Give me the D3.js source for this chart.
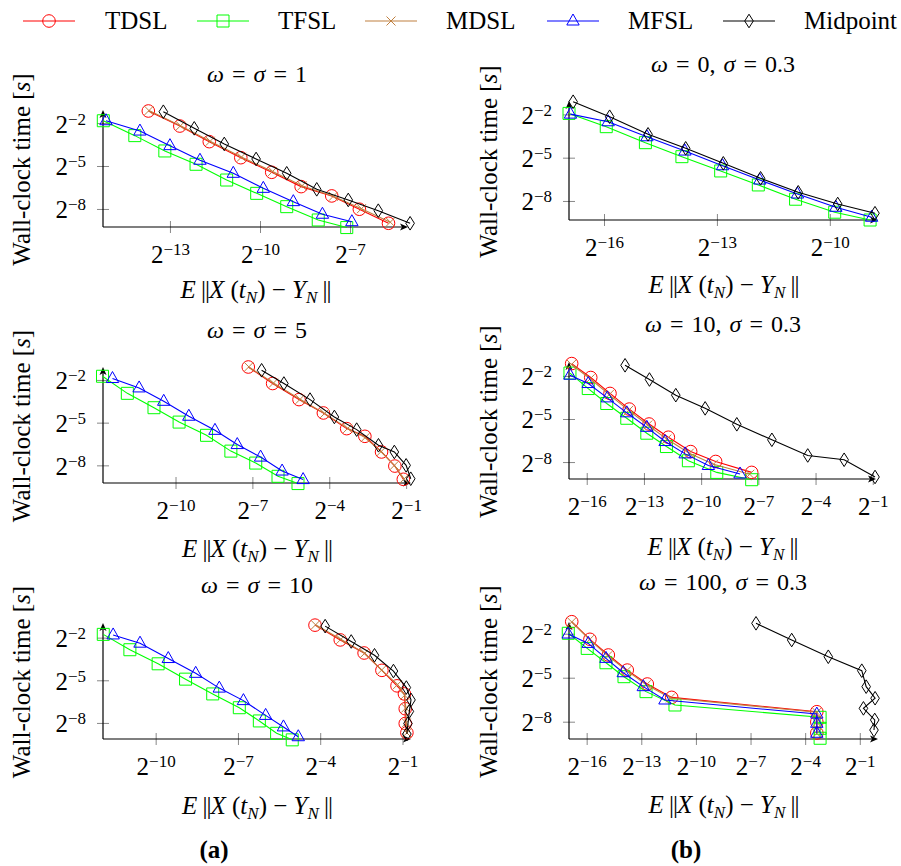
<!DOCTYPE html>
<html><head><meta charset="utf-8">
<script src="https://cdn.jsdelivr.net/npm/d3@7"></script>
<style>
body{margin:0;background:#fff}
svg{display:block}
</style>
</head><body><svg id="c" width="901" height="866" font-family="Liberation Serif, Times New Roman, Tinos, DejaVu Serif, serif"></svg>
<script>
// ---------- DATA (log2 of error / log2 of wall-clock time) ----------
const seriesNames = ["TDSL","TFSL","MDSL","MFSL","Midpoint"];

// panel (a) omega = sigma = 1
const p1Err = {
  TDSL:[-13.72,-12.67,-11.69,-10.64,-9.61,-8.63,-7.61,-6.69,-5.72],
  TFSL:[-15.22,-14.17,-13.17,-12.13,-11.11,-10.11,-9.11,-8.06,-7.11],
  MDSL:[-13.70,-12.65,-11.66,-10.62,-9.58,-8.60,-7.56,-6.62,-5.66],
  MFSL:[-15.13,-14.0,-13.0,-12.0,-10.89,-9.89,-8.89,-7.92,-6.94],
  Midpoint:[-13.22,-12.19,-11.19,-10.13,-9.11,-8.11,-7.06,-6.06,-5.0]
};
const p1Time = {
  TDSL:[-1.16,-2.21,-3.30,-4.42,-5.44,-6.44,-7.09,-8.02,-9.0],
  TFSL:[-1.84,-2.88,-3.95,-4.88,-5.98,-6.91,-7.84,-8.77,-9.30],
  MDSL:[-1.13,-2.19,-3.27,-4.38,-5.38,-6.38,-7.12,-7.98,-8.92],
  MFSL:[-1.84,-2.56,-3.58,-4.60,-5.51,-6.56,-7.49,-8.37,-8.89],
  Midpoint:[-1.21,-2.37,-3.46,-4.51,-5.51,-6.63,-7.37,-8.12,-9.0]
};
// panel (b) omega = 0, sigma = 0.3
const p2Err = {
  TFSL:[-16.93,-15.94,-14.90,-13.93,-12.90,-11.90,-10.91,-9.87,-8.93],
  MFSL:[-16.89,-15.89,-14.86,-13.85,-12.85,-11.86,-10.86,-9.84,-8.89],
  Midpoint:[-16.82,-15.85,-14.83,-13.83,-12.83,-11.84,-10.84,-9.79,-8.80]
};
const p2Time = {
  TFSL:[-1.93,-2.85,-3.96,-4.93,-5.92,-6.89,-7.88,-8.78,-9.32],
  MFSL:[-1.98,-2.51,-3.55,-4.54,-5.56,-6.55,-7.52,-8.44,-9.13],
  Midpoint:[-1.12,-2.16,-3.38,-4.35,-5.39,-6.43,-7.40,-8.21,-8.85]
};
// panel (a) omega = sigma = 5
const p3Err = {
  TDSL:[-7.16,-6.21,-5.18,-4.23,-3.32,-2.61,-1.96,-1.44,-1.11],
  TFSL:[-12.85,-11.88,-10.84,-9.86,-8.79,-7.84,-6.87,-6.0,-5.22],
  MDSL:[-7.14,-6.18,-5.14,-4.18,-3.28,-2.60,-1.98,-1.46,-1.08],
  MFSL:[-12.46,-11.42,-10.46,-9.48,-8.46,-7.59,-6.68,-5.84,-5.02],
  Midpoint:[-6.64,-5.77,-4.75,-3.80,-2.93,-2.08,-1.46,-1.0,-0.82]
};
const p3Time = {
  TDSL:[-1.09,-2.25,-3.38,-4.32,-5.42,-5.96,-7.06,-8.05,-8.98],
  TFSL:[-1.74,-2.94,-3.95,-4.96,-5.89,-7.0,-7.84,-8.77,-9.28],
  MDSL:[-1.08,-2.22,-3.36,-4.35,-5.40,-6.05,-7.04,-8.0,-8.95],
  MFSL:[-1.90,-2.56,-3.50,-4.55,-5.54,-6.54,-7.42,-8.40,-9.0],
  Midpoint:[-1.32,-2.25,-3.38,-4.60,-5.49,-6.59,-7.06,-8.0,-8.94]
};
// panel (b) omega = 10, sigma = 0.3
const p4Err = {
  TDSL:[-16.79,-15.79,-14.78,-13.77,-12.73,-11.72,-10.55,-9.24,-7.35],
  TFSL:[-16.88,-15.92,-14.95,-13.90,-12.85,-11.82,-10.67,-9.18,-7.35],
  MDSL:[-16.80,-15.82,-14.82,-13.80,-12.80,-11.80,-10.62,-9.35,-7.45],
  MFSL:[-16.88,-15.92,-14.92,-13.90,-12.85,-11.89,-10.84,-9.62,-7.96],
  Midpoint:[-13.99,-12.71,-11.33,-9.79,-8.13,-6.29,-4.41,-2.50,-0.88]
};
const p4Time = {
  TDSL:[-1.14,-2.11,-3.22,-4.31,-5.35,-6.27,-7.27,-7.96,-8.72],
  TFSL:[-1.80,-2.88,-3.92,-4.95,-5.99,-6.92,-7.91,-8.72,-9.23],
  MDSL:[-1.20,-2.20,-3.30,-4.40,-5.42,-6.40,-7.38,-8.15,-8.85],
  MFSL:[-1.95,-2.53,-3.53,-4.57,-5.58,-6.57,-7.43,-8.24,-8.83],
  Midpoint:[-1.26,-2.25,-3.34,-4.26,-5.37,-6.45,-7.54,-7.84,-9.04]
};
// panel (a) omega = sigma = 10
const p5Err = {
  TDSL:[-4.19,-3.27,-2.40,-1.75,-1.20,-0.93,-0.90,-0.90,-0.84],
  TFSL:[-11.91,-10.94,-9.91,-8.91,-7.92,-6.95,-6.22,-5.59,-5.02],
  MDSL:[-4.17,-3.25,-2.38,-1.76,-1.18,-0.92,-0.88,-0.86,-0.84],
  MFSL:[-11.55,-10.57,-9.54,-8.54,-7.68,-6.80,-5.99,-5.34,-4.80],
  Midpoint:[-3.82,-2.87,-2.02,-1.33,-0.86,-0.69,-0.75,-0.80,-0.84]
};
const p5Time = {
  TDSL:[-1.12,-2.16,-3.08,-4.30,-5.39,-5.96,-7.0,-8.04,-8.69],
  TFSL:[-1.77,-2.85,-3.84,-4.92,-5.96,-6.93,-7.86,-8.73,-9.19],
  MDSL:[-1.10,-2.12,-3.10,-4.28,-5.30,-6.05,-6.95,-8.00,-8.70],
  MFSL:[-1.81,-2.39,-3.47,-4.51,-5.55,-6.43,-7.47,-8.28,-8.97],
  Midpoint:[-1.19,-2.27,-3.24,-4.35,-5.51,-6.38,-7.19,-8.04,-8.78]
};
// panel (b) omega = 100, sigma = 0.3
const p6Err = {
  TDSL:[-16.82,-15.82,-14.81,-13.77,-12.67,-11.33,-3.36,-3.36,-3.36],
  TFSL:[-17.01,-15.97,-14.94,-13.95,-12.74,-11.15,-3.18,-3.18,-3.18],
  MDSL:[-16.82,-15.84,-14.84,-13.80,-12.72,-11.40,-3.36,-3.36,-3.36],
  MFSL:[-17.01,-15.91,-14.94,-13.99,-12.89,-11.70,-3.36,-3.36,-3.36],
  Midpoint:[-6.70,-4.74,-2.73,-0.89,-0.65,-0.16,-0.80,-0.18,-0.22]
};
const p6Time = {
  TDSL:[-1.18,-2.38,-3.45,-4.48,-5.43,-6.34,-7.32,-8.02,-8.77],
  TFSL:[-1.97,-3.0,-3.98,-4.93,-5.95,-6.86,-7.70,-8.45,-9.13],
  MDSL:[-1.20,-2.40,-3.50,-4.52,-5.48,-6.38,-7.36,-8.05,-8.80],
  MFSL:[-2.02,-2.66,-3.68,-4.66,-5.61,-6.52,-7.48,-8.11,-8.79],
  Midpoint:[-1.29,-2.43,-3.57,-4.52,-5.61,-6.40,-7.09,-7.88,-8.57]
};

const yTickExps = [-2,-5,-8];
const p1XTicks = [-13,-10,-7];
const p2XTicks = [-16,-13,-10];
const p3XTicks = [-10,-7,-4,-1];
const p4XTicks = [-16,-13,-10,-7,-4,-1];
const p5XTicks = [-10,-7,-4,-1];
const p6XTicks = [-16,-13,-10,-7,-4,-1];

const titles = ["ω = σ = 1","ω = 0, σ = 0.3","ω = σ = 5","ω = 10, σ = 0.3","ω = σ = 10","ω = 100, σ = 0.3"];
const subLabels = ["(a)","(b)"];

// ---------- STYLE / LAYOUT ----------
const styles = {
  TDSL:{color:"#ff0000",mark:"circle"},
  TFSL:{color:"#00ff00",mark:"square"},
  MDSL:{color:"#bf8040",mark:"cross"},
  MFSL:{color:"#0000ff",mark:"triangle"},
  Midpoint:{color:"#000000",mark:"diamond"}
};
const panels = [
  {err:p1Err,time:p1Time,xt:p1XTicks,title:titles[0],x0:103,x1:408,yb:227,yt:110,xd:[-15.23,-5.07],yd:[-9.26,-1.09],tx:257,ty:82,xly:298,yl:30},
  {err:p2Err,time:p2Time,xt:p2XTicks,title:titles[1],x0:569,x1:878,yb:220,yt:101,xd:[-16.93,-8.72],yd:[-9.32,-1.07],tx:723,ty:72,xly:293,yl:497},
  {err:p3Err,time:p3Time,xt:p3XTicks,title:titles[2],x0:103,x1:411,yb:483,yt:367,xd:[-12.83,-0.81],yd:[-9.24,-1.09],tx:257,ty:338,xly:557,yl:30},
  {err:p4Err,time:p4Time,xt:p4XTicks,title:titles[3],x0:569,x1:876,yb:479,yt:362,xd:[-16.93,-0.83],yd:[-9.18,-1.03],tx:723,ty:332,xly:555,yl:497},
  {err:p5Err,time:p5Time,xt:p5XTicks,title:titles[4],x0:103,x1:411,yb:739,yt:623,xd:[-11.92,-0.69],yd:[-9.13,-0.97],tx:257,ty:593,xly:814,yl:30},
  {err:p6Err,time:p6Time,xt:p6XTicks,title:titles[5],x0:569,x1:878,yb:739,yt:622,xd:[-16.97,0.0],yd:[-9.18,-1.20],tx:723,ty:590,xly:813,yl:497}
];

const svg = d3.select("#c");

function drawMarker(g, type, color){
  const s = g.append(type==="circle"?"circle":"path")
    .attr("fill","none").attr("stroke",color).attr("stroke-width",1);
  if(type==="circle") s.attr("r",6.3);
  else if(type==="square") s.attr("d","M-6,-6H6V6H-6Z");
  else if(type==="triangle") s.attr("d","M0,-7L6.2,4L-6.2,4Z");
  else if(type==="diamond") s.attr("d","M0,-6.8L4.3,0L0,6.8L-4.3,0Z");
  else if(type==="cross") s.attr("d","M-4.5,-4.5L4.5,4.5M-4.5,4.5L4.5,-4.5");
}

function supLabel(sel, exp, size){
  sel.append("tspan").attr("font-size",size).text("2");
  sel.append("tspan").attr("font-size",17).attr("dy",-8).text("\u2212"+Math.abs(exp));
}

// ---------- LEGEND ----------
const legendItems = [
  {name:"TDSL",lx:23,tx:105},{name:"TFSL",lx:197,tx:278},{name:"MDSL",lx:365,tx:446},
  {name:"MFSL",lx:547,tx:628},{name:"Midpoint",lx:723,tx:804}
];
legendItems.forEach(it=>{
  const st = styles[it.name];
  const g = svg.append("g");
  g.append("line").attr("x1",it.lx).attr("x2",it.lx+52).attr("y1",21).attr("y2",21)
    .attr("stroke",st.color).attr("stroke-width",1.1);
  drawMarker(g.append("g").attr("transform",`translate(${it.lx+26},21)`), st.mark, st.color);
  g.append("text").attr("x",it.tx).attr("y",29).attr("font-size",25).text(it.name);
});

// ---------- PANELS ----------
panels.forEach(p=>{
  const x = d3.scaleLog().base(2).domain([2**p.xd[0],2**p.xd[1]]).range([p.x0,p.x1]);
  const y = d3.scaleLog().base(2).domain([2**p.yd[0],2**p.yd[1]]).range([p.yb,p.yt]);
  const g = svg.append("g");

  const gx = g.append("g").attr("transform",`translate(0,${p.yb})`)
    .call(d3.axisBottom(x).tickValues(p.xt.map(e=>2**e)).tickSizeInner(6).tickSizeOuter(0).tickFormat(()=>""));
  gx.attr("font-family",null).attr("font-size",null);
  gx.select(".domain").remove();
  gx.selectAll(".tick line").attr("y1",-6).attr("stroke","#888").attr("stroke-width",1);
  gx.selectAll(".tick").each(function(d){
    const t = d3.select(this).append("text").attr("y",36).attr("text-anchor","middle").attr("fill","#000");
    supLabel(t, Math.round(Math.log2(d)), 25);
  });
  const gy = g.append("g").attr("transform",`translate(${p.x0},0)`)
    .call(d3.axisLeft(y).tickValues(yTickExps.map(e=>2**e)).tickSizeInner(6).tickSizeOuter(0).tickFormat(()=>""));
  gy.attr("font-family",null).attr("font-size",null);
  gy.select(".domain").remove();
  gy.selectAll(".tick line").attr("x1",6).attr("stroke","#888").attr("stroke-width",1);
  gy.selectAll(".tick").each(function(d){
    const t = d3.select(this).append("text").attr("x",-17).attr("y",9).attr("text-anchor","end").attr("fill","#000");
    supLabel(t, Math.round(Math.log2(d)), 25);
  });
  g.append("line").attr("x1",p.x0).attr("x2",p.x1-3).attr("y1",p.yb).attr("y2",p.yb).attr("stroke","#000").attr("stroke-width",1.2);
  g.append("line").attr("x1",p.x0).attr("x2",p.x0).attr("y1",p.yb).attr("y2",p.yt+3).attr("stroke","#000").attr("stroke-width",1.2);
  g.append("path").attr("d",`M${p.x1},${p.yb}L${p.x1-8},${p.yb-3.5}L${p.x1-6},${p.yb}L${p.x1-8},${p.yb+3.5}Z`).attr("fill","#000");
  g.append("path").attr("d",`M${p.x0},${p.yt}L${p.x0-3.5},${p.yt+8}L${p.x0},${p.yt+6}L${p.x0+3.5},${p.yt+8}Z`).attr("fill","#000");

  seriesNames.forEach(name=>{
    if(!p.err[name]) return;
    const st = styles[name];
    const pts = p.err[name].map((e,i)=>[2**e, 2**p.time[name][i]]);
    g.append("path").datum(pts)
      .attr("d",d3.line().x(d=>x(d[0])).y(d=>y(d[1])))
      .attr("fill","none").attr("stroke",st.color).attr("stroke-width",1.1);
    pts.forEach(d=>{
      drawMarker(g.append("g").attr("transform",`translate(${x(d[0])},${y(d[1])})`), st.mark, st.color);
    });
  });

  const tt = g.append("text").attr("x",p.tx).attr("y",p.ty).attr("text-anchor","middle")
    .attr("font-size",24).attr("word-spacing","2px").style("white-space","pre");
  p.title.split(/([ωσ])/).forEach(part=>{
    if(!part) return;
    const ts = tt.append("tspan").text(part);
    if(part==="ω"||part==="σ") ts.attr("font-style","italic");
  });

  const xl = g.append("text").attr("x",(p.x0+p.x1)/2).attr("y",p.xly).attr("text-anchor","middle").attr("font-size",25).style("white-space","pre");
  xl.append("tspan").attr("font-style","italic").text("E");
  xl.append("tspan").attr("letter-spacing","-1px").text(" ||");
  xl.append("tspan").attr("font-style","italic").text("X");
  xl.append("tspan").text(" (");
  xl.append("tspan").attr("font-style","italic").text("t");
  xl.append("tspan").attr("font-style","italic").attr("font-size",17).attr("dy",5).text("N");
  xl.append("tspan").attr("dy",-5).text(") \u2212 ");
  xl.append("tspan").attr("font-style","italic").text("Y");
  xl.append("tspan").attr("font-style","italic").attr("font-size",17).attr("dy",5).text("N");
  xl.append("tspan").attr("dy",-5).attr("letter-spacing","-1px").text(" ||");

  const yl = g.append("text").attr("transform",`translate(${p.yl},${(p.yb+p.yt)/2+1}) rotate(-90)`)
    .attr("text-anchor","middle").attr("font-size",25);
  yl.append("tspan").text("Wall-clock time [");
  yl.append("tspan").attr("font-style","italic").text("s");
  yl.append("tspan").text("]");
});

svg.append("text").attr("x",214).attr("y",858).attr("text-anchor","middle").attr("font-size",25).attr("font-weight","bold").text(subLabels[0]);
svg.append("text").attr("x",686).attr("y",858).attr("text-anchor","middle").attr("font-size",25).attr("font-weight","bold").text(subLabels[1]);
</script>
</body></html>
